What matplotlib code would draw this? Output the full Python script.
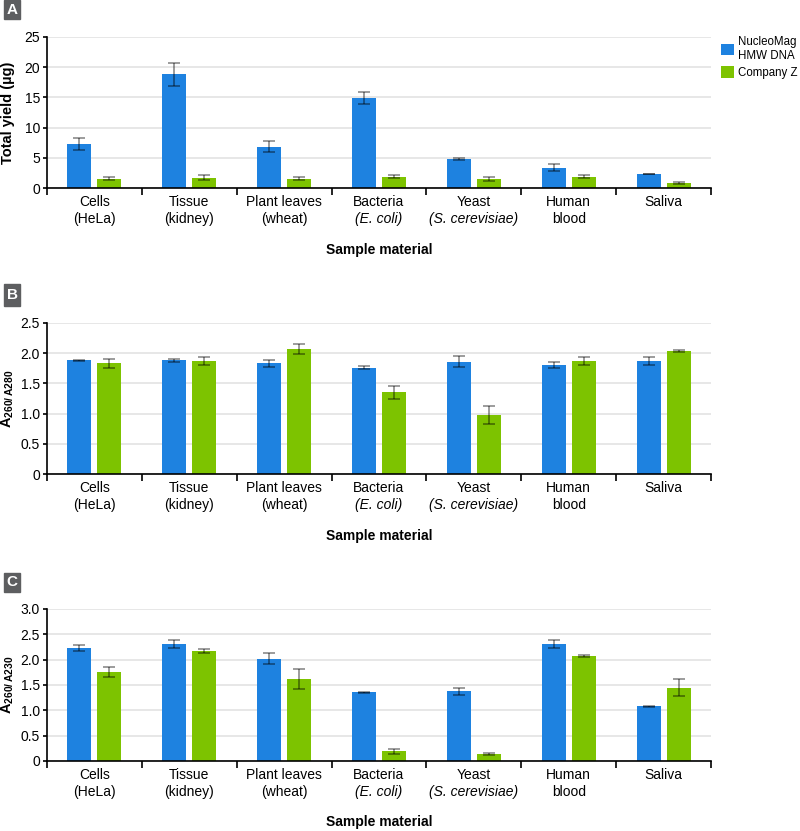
import numpy as np
import matplotlib
matplotlib.use("Agg")
import matplotlib.pyplot as plt
from matplotlib.patches import Rectangle
from matplotlib.transforms import blended_transform_factory

plt.rcParams['font.family'] = ['Liberation Sans', 'DejaVu Sans']
plt.rcParams['mathtext.fontset'] = 'custom'
plt.rcParams['mathtext.rm'] = 'Liberation Sans'
plt.rcParams['mathtext.bf'] = 'Liberation Sans:bold'

cat_line1 = ["Cells", "Tissue", "Plant leaves", "Bacteria", "Yeast", "Human", "Saliva"]
cat_line2 = ["(HeLa)", "(kidney)", "(wheat)", "(E. coli)", "(S. cerevisiae)", "blood", ""]
cat_italic = [False, False, False, True, True, False, False]

series_names = ["NucleoMag\nHMW DNA", "Company Z"]

yield_nm = [7.35, 18.8, 6.85, 14.85, 4.85, 3.35, 2.35]
yield_nm_err = [1.0, 1.9, 0.9, 1.0, 0.15, 0.6, 0.05]
yield_cz = [1.55, 1.7, 1.55, 1.85, 1.55, 1.88, 0.88]
yield_cz_err = [0.2, 0.4, 0.2, 0.25, 0.35, 0.27, 0.15]

r280_nm = [1.88, 1.88, 1.83, 1.76, 1.86, 1.81, 1.875]
r280_nm_err = [0.01, 0.02, 0.06, 0.02, 0.09, 0.05, 0.065]
r280_cz = [1.83, 1.865, 2.075, 1.35, 0.97, 1.875, 2.04]
r280_cz_err = [0.075, 0.065, 0.08, 0.115, 0.15, 0.065, 0.02]

r230_nm = [2.23, 2.31, 2.015, 1.36, 1.375, 2.31, 1.08]
r230_nm_err = [0.05, 0.08, 0.11, 0.01, 0.07, 0.08, 0.01]
r230_cz = [1.76, 2.17, 1.62, 0.19, 0.145, 2.07, 1.45]
r230_cz_err = [0.1, 0.04, 0.2, 0.05, 0.02, 0.02, 0.17]

panels = [
    dict(letter="A", nm=yield_nm, nme=yield_nm_err, cz=yield_cz, cze=yield_cz_err,
         ylim=25, yticks=[0, 5, 10, 15, 20, 25], fmt="{:g}",
         ylabel="Total yield (µg)", top=37, bottom=188, box=(0, 19), xlab=250),
    dict(letter="B", nm=r280_nm, nme=r280_nm_err, cz=r280_cz, cze=r280_cz_err,
         ylim=2.5, yticks=[0, 0.5, 1.0, 1.5, 2.0, 2.5], fmt="{:.1f}",
         ylabel=r"$\mathbf{A_{260/\,A280}}$", top=323, bottom=474, box=(284, 306), xlab=536),
    dict(letter="C", nm=r230_nm, nme=r230_nm_err, cz=r230_cz, cze=r230_cz_err,
         ylim=3.0, yticks=[0, 0.5, 1.0, 1.5, 2.0, 2.5, 3.0], fmt="{:.1f}",
         ylabel=r"$\mathbf{A_{260/\,A230}}$", top=609, bottom=761, box=(573, 592), xlab=822),
]

W, H = 800, 831
fig = plt.figure(figsize=(W / 100, H / 100), dpi=100)

BLUE = "#1e82e0"
GREEN = "#7dc300"
x = np.arange(len(cat_line1))
bw = 0.253
off = 0.158

for p in panels:
    ax = fig.add_axes([47 / W, 1 - p['bottom'] / H, 664 / W, (p['bottom'] - p['top']) / H])
    ax.bar(x - off, p['nm'], bw, color=BLUE, zorder=2, label=series_names[0])
    ax.bar(x + off, p['cz'], bw, color=GREEN, zorder=2, label=series_names[1])
    ax.errorbar(x - off, p['nm'], yerr=p['nme'], fmt='none', ecolor='black', alpha=0.42,
                elinewidth=1.3, capsize=4, capthick=1.3, zorder=3)
    ax.errorbar(x + off, p['cz'], yerr=p['cze'], fmt='none', ecolor='black', alpha=0.42,
                elinewidth=1.3, capsize=4, capthick=1.3, zorder=3)
    ax.set_xlim(-0.5, len(x) - 0.5)
    ax.set_ylim(0, p['ylim'])
    ax.set_yticks(p['yticks'])
    ax.set_yticklabels([p['fmt'].format(v) if v != 0 else "0" for v in p['yticks']], fontsize=10)
    ax.set_xticks(np.arange(-0.5, len(x), 1.0))
    ax.set_xticklabels([])
    ax.tick_params(axis='x', length=5, width=1.2, direction='out')
    ax.tick_params(axis='y', length=3, width=1.2, direction='out', pad=2)
    ax.yaxis.grid(True, color='#e3e3e3', linewidth=1.2, zorder=0)
    ax.set_axisbelow(True)
    for s in ['top', 'right']:
        ax.spines[s].set_visible(False)
    for s in ['left', 'bottom']:
        ax.spines[s].set_linewidth(1.2)
    trans = blended_transform_factory(ax.transData, fig.transFigure)
    for i in range(len(x)):
        ax.text(x[i], 1 - 202 / H - (p['bottom'] - 188) / H, cat_line1[i], transform=trans,
                ha='center', va='center', fontsize=10)
        ax.text(x[i], 1 - 219 / H - (p['bottom'] - 188) / H, cat_line2[i], transform=trans,
                ha='center', va='center', fontsize=10,
                style='italic' if cat_italic[i] else 'normal')
    fig.text(379 / W, 1 - p['xlab'] / H, "Sample material", ha='center', va='center',
             fontsize=10, fontweight='bold')
    mid = (p['top'] + p['bottom']) / 2
    fig.text(8 / W, 1 - mid / H, p['ylabel'], rotation=90, ha='center', va='center',
             fontsize=10.5, fontweight='bold')
    y0, y1 = p['box']
    fig.patches.append(Rectangle((4 / W, 1 - y1 / H), 16 / W, (y1 - y0) / H,
                                 transform=fig.transFigure, color='#5d5e60', zorder=5))
    fig.text(12 / W, 1 - (y0 + y1) / 2 / H, p['letter'], ha='center', va='center',
             color='white', fontsize=11, fontweight='bold', zorder=6)
    if p['letter'] == 'A':
        handles, labels = ax.get_legend_handles_labels()

leg = fig.legend(handles, labels, loc='upper left', bbox_to_anchor=(721 / W, 1 - 36 / H),
                 frameon=False, fontsize=8.3, handlelength=1.15, handleheight=1.15,
                 handletextpad=0.35, labelspacing=0.4, borderaxespad=0, borderpad=0)

fig.savefig("out.png", dpi=100)
